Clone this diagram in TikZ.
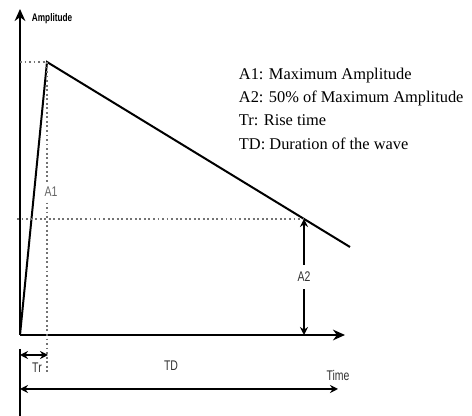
\documentclass[tikz,border=0pt]{standalone}
\usepackage{fontspec}
\setmainfont{Liberation Serif}
\newfontfamily\lblfont[FakeStretch=0.75]{Liberation Sans}
\usetikzlibrary{arrows.meta}
\tikzset{
  every path/.style={
    black,
    line width=1.4pt
  },
  guide/.style={
    dotted,
    black!55,
    line width=0.9pt
  },
  lbl/.style={
    font=\lblfont\fontsize{10.5}{12}\selectfont,
    text=black!80,
    inner sep=1pt
  },
  dim/.style={
    line width=1.1pt,
    {Stealth[length=6pt,width=6pt]}-{Stealth[length=6pt,width=6pt]}
  }
}

\begin{document}
\begin{tikzpicture}[x=0.75pt,y=-0.75pt,>={Stealth[length=9pt,width=8pt]}]
    \useasboundingbox (0,0) rectangle (472,416);
    % 基準点
    \coordinate (O) at (20,335);
    \coordinate (P) at (47,62);
    \coordinate (H) at (304,219);
    \coordinate (E) at (350,247);
    \coordinate (Ytop) at (20,9);
    \coordinate (Xend) at (345,335);
    \coordinate (Tick) at (20,349);
    \coordinate (Ybot) at (20,416);

    % 軸
    \draw[->] (O) -- (Ytop);
    \draw[->] (O) -- (Xend);
    \draw (Tick) -- (Ybot);
    \node[anchor=base west, inner sep=0pt,
        font=\lblfont\bfseries\fontsize{8.25}{10}\selectfont] (amp) at (31,22) {Amplitude};

    % 波形
    \draw[line width=1.5pt] (O) -- (P) -- (E);

    % 点線
    \draw[guide] (O |- P) -- (P);
    \draw[guide] (P) -- (P |- 0,374);
    \draw[guide] (17,219) -- (H);
    \node[lbl, text=black!60, fill=white, inner ysep=3pt] (lblA1) at (51,192) {A1};

    % 寸法矢印
    \draw[dim] (H) -- (H |- O) node[midway, lbl, fill=white, inner ysep=5pt] (lblA2) {A2};
    \coordinate (TrL) at (20,355);
    \coordinate (TrR) at (48,355);
    \draw[dim] (TrL) -- (TrR);
    \node[lbl] (lblTr) at (37,368) {Tr};
    \coordinate (TDL) at (20,389);
    \coordinate (TDR) at (338,389);
    \draw[dim] (TDL) -- (TDR);
    \node[lbl] (lblTD) at (171,366) {TD};
    \node[lbl] (lblTime) at (338,375) {Time};

    % 説明
    \node[anchor=north west, align=left, inner sep=0pt,
        font=\fontsize{12.3}{17.5}\selectfont] (legend) at (238,67)
        {A1: Maximum Amplitude\\
         A2: 50\% of Maximum Amplitude\\
         Tr: Rise time\\
         TD: Duration of the wave};
\end{tikzpicture}
\end{document}
